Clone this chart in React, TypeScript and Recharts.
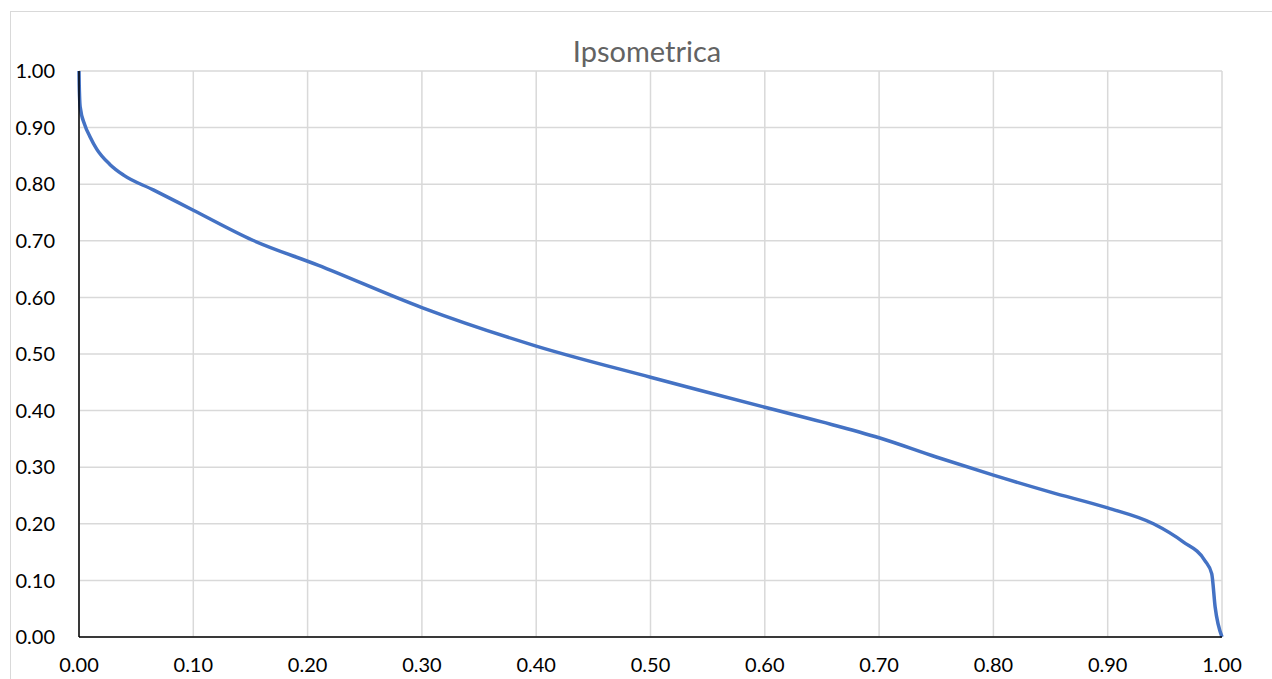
import { CartesianGrid, Line, LineChart, XAxis, YAxis } from "recharts";

// curva ipsometrica: area relativa (x) vs quota relativa (y)
const areaRel = [
  0, 0.0002, 0.0005, 0.001, 0.005, 0.0096, 0.0155, 0.027, 0.039, 0.065, 0.1,
  0.152, 0.209, 0.3, 0.4, 0.5, 0.543, 0.6, 0.65, 0.7, 0.75, 0.8, 0.85, 0.9,
  0.94, 0.966, 0.985, 0.991, 0.994, 1.0,
];
const quotaRel = [
  1.0, 0.975, 0.954, 0.937, 0.905, 0.884, 0.862, 0.835, 0.816, 0.79, 0.754,
  0.701, 0.657, 0.582, 0.514, 0.459, 0.436, 0.406, 0.38, 0.352, 0.318, 0.286,
  0.256, 0.228, 0.2, 0.168, 0.135, 0.112, 0.053, 0.0,
];
const ticks = [0, 0.1, 0.2, 0.3, 0.4, 0.5, 0.6, 0.7, 0.8, 0.9, 1.0];

const data = areaRel.map((x, i) => ({ x, y: quotaRel[i] }));

const FONT = "Lato, 'Open Sans', sans-serif";
const GRID = "#d9d9d9";
const BLUE = "#4472C4";

export default function App() {
  return (
    <div
      style={{
        position: "absolute",
        left: 0,
        top: 0,
        width: 1272,
        height: 679,
        overflow: "hidden",
        background: "white",
        fontFamily: FONT,
      }}
    >
      <div
        style={{
          position: "absolute",
          left: 10,
          top: 11,
          width: 1300,
          height: 720,
          border: `1px solid ${GRID}`,
          boxSizing: "border-box",
        }}
      />
      <div
        style={{
          position: "absolute",
          left: 647,
          top: 34,
          transform: "translateX(-50%)",
          fontSize: 29,
          lineHeight: "34px",
          color: "#636363",
          whiteSpace: "nowrap",
        }}
      >
        Ipsometrica
      </div>
      <div style={{ position: "absolute", left: 0, top: 0 }}>
        <LineChart
          width={1272}
          height={679}
          data={data}
          margin={{ top: 71, right: 50, left: 0, bottom: 0 }}
        >
          <CartesianGrid stroke={GRID} strokeWidth={1.5} />
          <XAxis
            type="number"
            dataKey="x"
            domain={[0, 1]}
            ticks={ticks}
            tickFormatter={(v) => Number(v).toFixed(2)}
            height={42}
            stroke="#000"
            strokeWidth={1.5}
            tickLine={false}
            tickSize={0}
            tickMargin={21}
            tick={{ fill: "#000", fontSize: 20, fontFamily: FONT }}
            interval={0}
          />
          <YAxis
            type="number"
            domain={[0, 1]}
            ticks={ticks}
            tickFormatter={(v) => Number(v).toFixed(2)}
            width={79}
            stroke="#000"
            strokeWidth={1.5}
            tickLine={false}
            tickSize={0}
            tickMargin={24}
            tick={{ fill: "#000", fontSize: 20, fontFamily: FONT }}
            interval={0}
          />
          <Line
            type="monotone"
            dataKey="y"
            stroke={BLUE}
            strokeWidth={3.5}
            dot={false}
            isAnimationActive={false}
          />
        </LineChart>
      </div>
    </div>
  );
}
